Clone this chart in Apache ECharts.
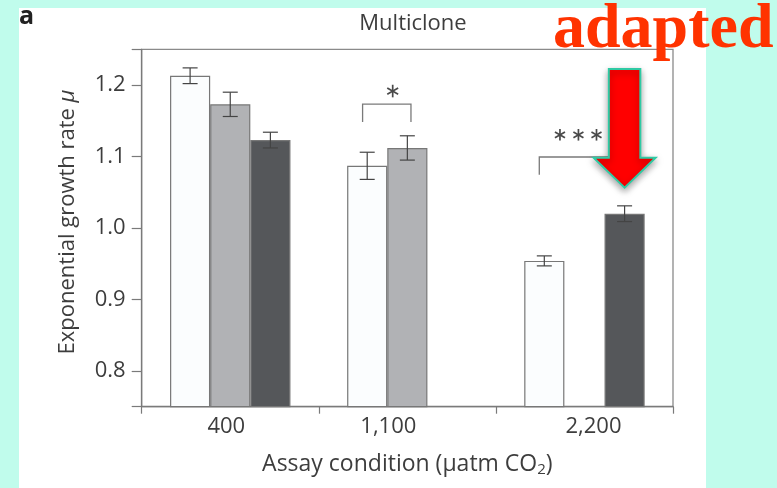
<!DOCTYPE html>
<html><head><meta charset="utf-8">
<script src="https://cdn.jsdelivr.net/npm/echarts@6/dist/echarts.min.js"></script>
<style>
html,body{margin:0;padding:0;background:#c0fcec;}
#panel{position:absolute;left:19px;top:8px;width:687px;height:480px;background:#fff;}
#chart{position:absolute;left:0;top:0;width:777px;height:488px;}
</style></head><body>
<div id="panel"></div><div id="chart"></div>
<script>
// ---- data ----
const categories = ['400', '1,100', '2,200'];
const seriesNames = ['Control (400)', 'Selected at 1,100', 'Selected at 2,200'];
const whiteValues = [1.213, 1.087, 0.954];
const whiteErrors = [0.011, 0.019, 0.007];
const greyValues  = [1.173, 1.112, null];
const greyErrors  = [0.017, 0.017, null];
const darkValues  = [1.123, null, 1.020];
const darkErrors  = [0.011, null, 0.011];
const yTickLabels = [0.8, 0.9, 1.0, 1.1, 1.2];
const yMin = 0.75, yMax = 1.25;

// ---- annotation layout (offsets in bar widths, heights in axis units) ----
const sigBrackets = [
  {cat: 1, from: -1.115, to: 0.09, top: 1.1734, leg: 1.1483, stars: [-0.365], starY: 1.1916, r: 6.3},
  {cat: 2, from: -1.125, to: 1.1, top: 1.0993, leg: 1.0745, stars: [-0.61, -0.15, 0.30], starY: 1.1304, r: 5.8}
];
const arrowDef = {cat: 2, slot: 2, tip: 1.0564, top: 1.2224};

const CAT_GAP = 0.32;
const FONT = '"Open Sans", "DejaVu Sans", sans-serif';
const TXT = '#3d3d3d';

const valueSets = [whiteValues, greyValues, darkValues];
const errorSets = [whiteErrors, greyErrors, darkErrors];
const colors = ['#fbfdfe', '#b1b2b5', '#55575a'];

function barWidth(api) {
  return api.size([1, 0])[0] * (1 - CAT_GAP) / 3;
}

const errData = [];
valueSets.forEach((vals, s) => vals.forEach((v, c) => {
  if (v != null) errData.push([c, v, errorSets[s][c], s]);
}));

function renderErr(params, api) {
  const c = api.value(0), v = api.value(1), e = api.value(2), slot = api.value(3);
  const bw = barWidth(api);
  const cx = api.coord([c, v])[0] + (slot - 1) * bw;
  const yT = api.coord([c, v + e])[1], yB = api.coord([c, v - e])[1];
  const hw = 7.5;
  const st = {stroke: '#444', lineWidth: 1.2};
  return {type: 'group', children: [
    {type: 'line', shape: {x1: cx, y1: yT, x2: cx, y2: yB}, style: st},
    {type: 'line', shape: {x1: cx - hw, y1: yT, x2: cx + hw, y2: yT}, style: st},
    {type: 'line', shape: {x1: cx - hw, y1: yB, x2: cx + hw, y2: yB}, style: st}
  ]};
}

function renderSig(params, api) {
  const b = sigBrackets[params.dataIndex];
  const bw = barWidth(api);
  const cx = api.coord([b.cat, b.top])[0];
  const yTop = api.coord([b.cat, b.top])[1];
  const yLeg = api.coord([b.cat, b.leg])[1];
  const x1 = cx + b.from * bw, x2 = cx + b.to * bw;
  const st = {stroke: '#7a7a7a', lineWidth: 1.3, fill: null};
  const children = [
    {type: 'polyline', shape: {points: [[x1, yLeg], [x1, yTop], [x2, yTop], [x2, yLeg]]}, style: st}
  ];
  const sy = api.coord([b.cat, b.starY])[1];
  b.stars.forEach(o => {
    const sx = cx + o * bw;
    [90, 30, 150].forEach(a => {
      const rad = a * Math.PI / 180;
      const dx = Math.cos(rad) * b.r, dy = Math.sin(rad) * b.r;
      children.push({type: 'line', shape: {x1: sx - dx, y1: sy - dy, x2: sx + dx, y2: sy + dy},
        style: {stroke: '#4a4a4a', lineWidth: 1.7}});
    });
  });
  return {type: 'group', children};
}

function renderArrow(params, api) {
  const bw = barWidth(api);
  const tx = api.coord([arrowDef.cat, arrowDef.tip])[0] + (arrowDef.slot - 1) * bw;
  const ty = api.coord([arrowDef.cat, arrowDef.tip])[1];
  const top = api.coord([arrowDef.cat, arrowDef.top])[1];
  const sh = 15.75, hh = 31, hl = 30;
  return {type: 'polygon', shape: {points: [
      [tx - sh, top], [tx + sh, top], [tx + sh, ty - hl], [tx + hh, ty - hl],
      [tx, ty], [tx - hh, ty - hl], [tx - sh, ty - hl]]},
    style: {fill: '#ff0000', stroke: '#2fcaa4', lineWidth: 2,
      shadowBlur: 7, shadowColor: 'rgba(0,0,0,0.35)', shadowOffsetY: 3}};
}

const labelShift = [-4, -19, 9];
const rich = {};
labelShift.forEach((s, i) => {
  rich['s' + i] = {fontSize: 22, fontFamily: FONT, color: TXT,
    padding: s < 0 ? [0, -2 * s, 0, 0] : [0, 0, 0, 2 * s]};
});

const chart = echarts.init(document.getElementById('chart'), null, {renderer: 'canvas'});
chart.setOption({
  backgroundColor: 'transparent',
  animation: false,
  title: {
    text: 'Multiclone', left: 408, top: 8, textAlign: 'center',
    textStyle: {fontFamily: FONT, fontSize: 22, fontWeight: 'normal', color: TXT}
  },
  grid: {left: 141.7, right: 104, top: 49.3, bottom: 81.3, show: true,
    borderColor: '#8a8a8a', borderWidth: 1.3, backgroundColor: 'transparent'},
  xAxis: {
    type: 'category', data: categories,
    name: 'Assay condition (μatm CO{sub|2})',
    nameLocation: 'middle', nameGap: 44,
    nameTextStyle: {fontFamily: FONT, fontSize: 23, color: TXT,
      rich: {sub: {fontFamily: FONT, fontSize: 15, color: TXT, verticalAlign: 'bottom', padding: [12, 0, 0, 0]}}},
    axisLine: {lineStyle: {color: '#7a7a7a', width: 1.3}},
    axisTick: {show: true, length: 7, lineStyle: {color: '#7a7a7a', width: 1.2}},
    axisLabel: {margin: 9, formatter: (v, i) => '{s' + i + '|' + v + '}', rich: rich}
  },
  yAxis: {
    type: 'value', min: yMin, max: yMax,
    name: 'Exponential growth rate {i|μ}',
    nameLocation: 'middle', nameGap: 63, nameRotate: 90,
    nameTextStyle: {fontFamily: FONT, fontSize: 22, color: TXT, padding: [0, 0, 0, 12],
      rich: {i: {fontFamily: FONT, fontSize: 22, fontStyle: 'italic', color: TXT}}},
    splitLine: {show: false},
    axisLine: {show: true, lineStyle: {color: '#7a7a7a', width: 1.3}},
    axisTick: {show: true, length: 10, customValues: [yMin].concat(yTickLabels, [yMax]),
      lineStyle: {color: '#7a7a7a', width: 1.2}},
    axisLabel: {customValues: yTickLabels, margin: 16, fontFamily: FONT, fontSize: 22, color: TXT,
      formatter: v => v.toFixed(1)}
  },
  graphic: [
    {type: 'text', left: 19, top: 4, style: {text: 'a', font: 'bold 25px ' + FONT, fill: '#222'}},
    {type: 'text', x: 553, y: -2, z: 100, style: {text: 'adapted', font: 'bold 64px "Liberation Serif", serif',
      fill: '#ff3300', textVerticalAlign: 'top'}}
  ],
  series: [
    ...valueSets.map((vals, s) => ({
      type: 'bar', name: seriesNames[s], data: vals.map(v => v == null ? '-' : v),
      barGap: '0%', barCategoryGap: (CAT_GAP * 100) + '%',
      itemStyle: {color: colors[s], borderColor: '#777', borderWidth: 1.2}
    })),
    {type: 'custom', name: 'error', data: errData, renderItem: renderErr, z: 5,
      encode: {x: 0, y: 1}},
    {type: 'custom', name: 'significance', data: sigBrackets.map(b => [b.cat, b.top]),
      renderItem: renderSig, z: 5, encode: {x: 0, y: 1}},
    {type: 'custom', name: 'arrow', data: [[arrowDef.cat, arrowDef.tip]],
      renderItem: renderArrow, z: 10, encode: {x: 0, y: 1}}
  ]
});
</script>
</body></html>
